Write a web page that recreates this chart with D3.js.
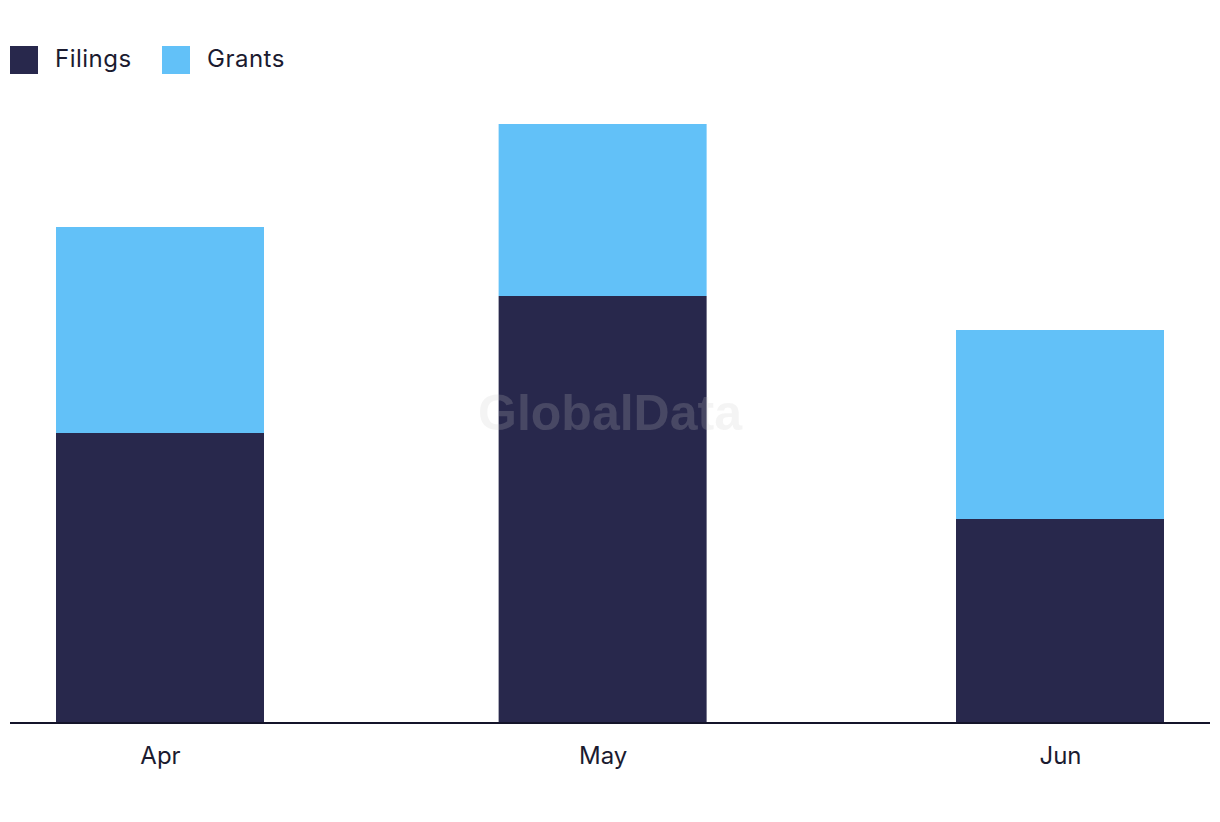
<!DOCTYPE html>
<html><head><meta charset="utf-8">
<script src="https://cdn.jsdelivr.net/npm/d3@7"></script>
<style>body{margin:0;background:#fff;}svg{display:block;font-family:Inter,"Noto Sans",sans-serif;}</style>
</head><body>
<svg id="chart" width="1220" height="822"></svg>
<script>
const months = ["2023-04-01", "2023-05-01", "2023-06-01"];
const tickLabels = ["Apr", "May", "Jun"];
const seriesNames = ["Filings", "Grants"];
const filings = [29.0, 42.7, 20.4];
const grants = [20.6, 17.2, 18.9];
const colors = ["#28284c", "#62c1f8"];

const svg = d3.select("#chart");
const parse = d3.utcParse("%Y-%m-%d");
const dates = months.map(parse);
const rows = dates.map((d, i) => ({date: d, Filings: filings[i], Grants: grants[i]}));

const x = d3.scaleUtc().domain([dates[0], dates[2]]).range([160, 1060]);
const y = d3.scaleLinear().domain([0, 65]).range([723, 73]);
const barW = 208;

const stack = d3.stack().keys(seriesNames)(rows);

const g = svg.append("g");
stack.forEach((s, si) => {
  g.selectAll(null).data(s).join("rect")
    .attr("x", d => x(d.data.date) - barW / 2)
    .attr("width", barW)
    .attr("y", d => y(d[1]))
    .attr("height", d => y(d[0]) - y(d[1]))
    .attr("fill", colors[si]);
});

// watermark
svg.append("text").attr("x", 610).attr("y", 430).attr("text-anchor", "middle")
  .attr("font-family", "Liberation Sans, Arial, sans-serif").attr("font-weight", "bold")
  .attr("font-size", 50).attr("fill", "rgb(200,200,200)").attr("fill-opacity", 0.2)
  .text("GlobalData");

// x axis
const xAxis = d3.axisBottom(x).tickValues(dates).tickSize(0).tickPadding(24)
  .tickFormat((d, i) => tickLabels[i]);
const ax = svg.append("g").attr("transform", "translate(0,723)").call(xAxis);
ax.select(".domain").remove();
ax.selectAll("text").attr("font-size", 24).attr("fill", "#1b1b30").attr("font-family", "Inter, sans-serif");
svg.append("line").attr("x1", 10).attr("x2", 1210).attr("y1", 723).attr("y2", 723)
  .attr("stroke", "#14142a").attr("stroke-width", 2);

// legend
const legX = [10, 162];
seriesNames.forEach((n, i) => {
  svg.append("rect").attr("x", legX[i]).attr("y", 46).attr("width", 28).attr("height", 28).attr("fill", colors[i]);
  svg.append("text").attr("x", legX[i] + 45).attr("y", 67).attr("font-size", 24)
    .attr("letter-spacing", 0.5).attr("fill", "#1b1b30").text(n);
});
</script>
</body></html>
